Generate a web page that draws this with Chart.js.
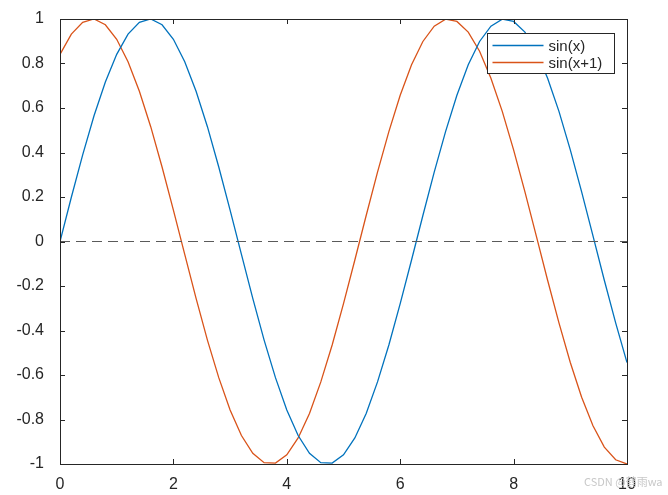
<!DOCTYPE html>
<html>
<head>
<meta charset="utf-8">
<script src="https://cdn.jsdelivr.net/npm/chart.js@4/dist/chart.umd.min.js"></script>
<style>
  html, body { margin: 0; padding: 0; background: #fff; }
  #wrap { position: relative; width: 668px; height: 495px; }
  #mark {
    position: absolute; left: 584px; top: 473px;
    font: 11px "Noto Sans CJK SC", "Liberation Sans", sans-serif;
    color: #c8c8c8; white-space: nowrap;
  }
</style>
</head>
<body>
<div id="wrap">
  <canvas id="plot" width="668" height="495"></canvas>
  <div id="mark">CSDN @鹤雨wa</div>
</div>
<script>
// x sampled every 0.2 from 0 to 10
const xs = [
  0, 0.2, 0.4, 0.6, 0.8, 1, 1.2, 1.4, 1.6, 1.8,
  2, 2.2, 2.4, 2.6, 2.8, 3, 3.2, 3.4, 3.6, 3.8,
  4, 4.2, 4.4, 4.6, 4.8, 5, 5.2, 5.4, 5.6, 5.8,
  6, 6.2, 6.4, 6.6, 6.8, 7, 7.2, 7.4, 7.6, 7.8,
  8, 8.2, 8.4, 8.6, 8.8, 9, 9.2, 9.4, 9.6, 9.8, 10,
];

const sinX = [
  0, 0.199, 0.389, 0.565, 0.717, 0.841, 0.932, 0.985, 1.0, 0.974,
  0.909, 0.808, 0.675, 0.516, 0.335, 0.141, -0.058, -0.256, -0.443, -0.612,
  -0.757, -0.872, -0.952, -0.994, -0.996, -0.959, -0.883, -0.773, -0.631, -0.465,
  -0.279, -0.083, 0.117, 0.312, 0.494, 0.657, 0.794, 0.899, 0.968, 0.999,
  0.989, 0.941, 0.855, 0.734, 0.585, 0.412, 0.223, 0.025, -0.174, -0.366, -0.544,
];

const sinX1 = [
  0.841, 0.932, 0.985, 1.0, 0.974, 0.909, 0.808, 0.675, 0.516, 0.335,
  0.141, -0.058, -0.256, -0.443, -0.612, -0.757, -0.872, -0.952, -0.994, -0.996,
  -0.959, -0.883, -0.773, -0.631, -0.465, -0.279, -0.083, 0.117, 0.312, 0.494,
  0.657, 0.794, 0.899, 0.968, 0.999, 0.989, 0.941, 0.855, 0.734, 0.585,
  0.412, 0.223, 0.025, -0.174, -0.366, -0.544, -0.700, -0.828, -0.924, -0.981, -1.0,
];

const zeroLineX = [0, 10];
const zeroLineY = [0, 0];

const xTicks = [0, 2, 4, 6, 8, 10];
const yTicks = [-1, -0.8, -0.6, -0.4, -0.2, 0, 0.2, 0.4, 0.6, 0.8, 1];

const seriesNames = ["sin(x)", "sin(x+1)"];
const BLUE = "#0072BD", ORANGE = "#D95319", INK = "#262626";
const FONT = '"Liberation Sans", Arial, sans-serif';

const pts = (xa, ya) => xa.map((x, i) => ({ x, y: ya[i] }));

// MATLAB-style box with inward ticks on all four sides
const boxPlugin = {
  id: "box",
  afterDatasetsDraw(chart) {
    const { ctx, chartArea: a, scales: { x, y } } = chart;
    const len = 5;
    ctx.save();
    ctx.strokeStyle = INK;
    ctx.lineWidth = 1;
    ctx.beginPath();
    xTicks.forEach(v => {
      const px = Math.round(x.getPixelForValue(v)) + 0.5;
      ctx.moveTo(px, a.bottom); ctx.lineTo(px, a.bottom - len);
      ctx.moveTo(px, a.top); ctx.lineTo(px, a.top + len);
    });
    yTicks.forEach(v => {
      const py = Math.round(y.getPixelForValue(v)) + 0.5;
      ctx.moveTo(a.left, py); ctx.lineTo(a.left + len, py);
      ctx.moveTo(a.right, py); ctx.lineTo(a.right - len, py);
    });
    ctx.stroke();
    ctx.strokeRect(Math.round(a.left) + 0.5, Math.round(a.top) + 0.5,
      Math.round(a.right - a.left), Math.round(a.bottom - a.top));

    // legend, top-right inside the axes
    const w = 127, h = 40;
    const lx = Math.round(a.right - 13 - w) + 0.5, ly = Math.round(a.top + 14) + 0.5;
    ctx.fillStyle = "#fff";
    ctx.fillRect(lx, ly, w, h);
    ctx.strokeStyle = INK;
    ctx.strokeRect(lx, ly, w, h);
    ctx.font = "15px " + FONT;
    ctx.textBaseline = "middle";
    [BLUE, ORANGE].forEach((c, i) => {
      const yy = ly + 12 + i * 17;
      ctx.strokeStyle = c;
      ctx.lineWidth = 1.3;
      ctx.beginPath();
      ctx.moveTo(lx + 5, yy); ctx.lineTo(lx + 56, yy);
      ctx.stroke();
      ctx.fillStyle = INK;
      ctx.fillText(seriesNames[i], lx + 61, yy + 1);
    });
    ctx.restore();
  },
};

new Chart(document.getElementById("plot"), {
  type: "line",
  data: {
    datasets: [
      {
        label: "zero",
        data: pts(zeroLineX, zeroLineY),
        borderColor: "#5a5a5a",
        borderWidth: 1.2,
        borderDash: [10, 6],
        pointRadius: 0,
      },
      {
        label: seriesNames[0],
        data: pts(xs, sinX),
        borderColor: BLUE,
        borderWidth: 1.3,
        pointRadius: 0,
        tension: 0,
      },
      {
        label: seriesNames[1],
        data: pts(xs, sinX1),
        borderColor: ORANGE,
        borderWidth: 1.3,
        pointRadius: 0,
        tension: 0,
      },
    ],
  },
  options: {
    responsive: false,
    animation: false,
    layout: { padding: { top: 19, right: 41, left: 0, bottom: 0 } },
    plugins: { legend: { display: false }, tooltip: { enabled: false } },
    scales: {
      x: {
        type: "linear",
        min: 0, max: 10,
        afterBuildTicks: s => { s.ticks = xTicks.map(v => ({ value: v })); },
        afterFit: s => { s.height = 31; },
        grid: { display: false },
        border: { display: false },
        ticks: { color: INK, font: { family: FONT, size: 16 }, padding: 3, maxRotation: 0 },
      },
      y: {
        type: "linear",
        min: -1, max: 1,
        afterBuildTicks: s => { s.ticks = yTicks.map(v => ({ value: v })); },
        afterFit: s => { s.width = 60; },
        grid: { display: false },
        border: { display: false },
        ticks: {
          color: INK, font: { family: FONT, size: 16 }, padding: 8,
          callback: v => String(Number(v.toFixed(1))),
        },
      },
    },
  },
  plugins: [boxPlugin],
});
</script>
</body>
</html>
